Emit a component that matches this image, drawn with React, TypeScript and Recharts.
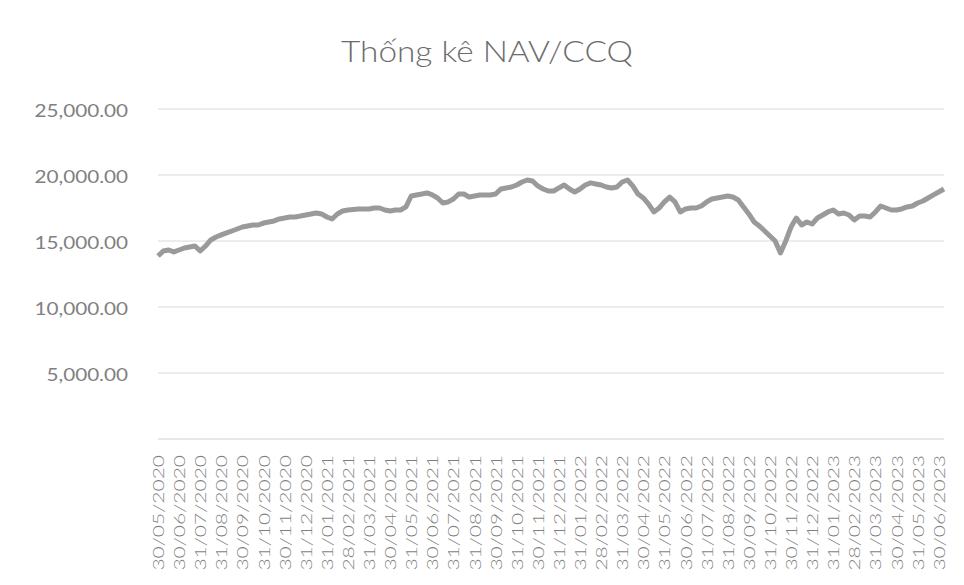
import React from "react";
import { LineChart, Line, XAxis, YAxis, CartesianGrid } from "recharts";

const chartTitle = "Thống kê NAV/CCQ";

const monthLabels = [
  "30/05/2020", "30/06/2020", "31/07/2020", "31/08/2020", "30/09/2020", "31/10/2020",
  "30/11/2020", "31/12/2020", "31/01/2021", "28/02/2021", "31/03/2021", "30/04/2021",
  "31/05/2021", "30/06/2021", "31/07/2021", "31/08/2021", "30/09/2021", "31/10/2021",
  "30/11/2021", "31/12/2021", "31/01/2022", "28/02/2022", "31/03/2022", "30/04/2022",
  "31/05/2022", "30/06/2022", "31/07/2022", "31/08/2022", "30/09/2022", "31/10/2022",
  "30/11/2022", "31/12/2022", "31/01/2023", "28/02/2023", "31/03/2023", "30/04/2023",
  "31/05/2023", "30/06/2023",
];

// NAV/CCQ read roughly every quarter of a month
const navValues = [
  13860, 14240, 14320, 14170, 14320, 14470, 14550, 14620, 14240, 14620,
  15080, 15300, 15460, 15610, 15760, 15910, 16060, 16140, 16210, 16210,
  16360, 16440, 16520, 16670, 16740, 16820, 16820, 16890, 16970, 17050,
  17120, 17050, 16820, 16670, 17050, 17270, 17350, 17390, 17430, 17430,
  17430, 17500, 17500, 17350, 17270, 17350, 17350, 17580, 18410, 18490,
  18560, 18640, 18490, 18260, 17880, 17960, 18180, 18560, 18560, 18330,
  18410, 18490, 18490, 18490, 18560, 18940, 19020, 19090, 19240, 19470,
  19620, 19550, 19170, 18940, 18790, 18790, 19020, 19240, 18940, 18710,
  18940, 19240, 19400, 19320, 19240, 19090, 19020, 19090, 19470, 19620,
  19170, 18560, 18260, 17800, 17200, 17500, 17960, 18330, 17960, 17200,
  17430, 17500, 17500, 17650, 17960, 18180, 18260, 18330, 18410, 18330,
  18110, 17580, 17050, 16440, 16140, 15760, 15380, 15000, 14100, 15000,
  16060, 16740, 16210, 16440, 16290, 16740, 16970, 17200, 17350, 17050,
  17120, 16970, 16590, 16890, 16890, 16820, 17200, 17650, 17500, 17350,
  17350, 17430, 17580, 17650, 17880, 18030, 18260, 18490, 18710, 18940,
];

const yTicks = [5000, 10000, 15000, 20000, 25000];
const pointsPerMonth = 4;

const data = navValues.map((v, i) => ({ t: i / pointsPerMonth, nav: v }));
const monthTicks = monthLabels.map((_, i) => i);

const fmt = (v: number) =>
  v.toLocaleString("en-US", { minimumFractionDigits: 2, maximumFractionDigits: 2 });

const fontFamily = "Lato, 'Open Sans', sans-serif";

const YTick = (props: any) => {
  const { x, y, payload } = props;
  return (
    <text
      transform={`translate(${x - 22},${y + 8}) scale(1.15,1)`}
      textAnchor="end"
      fontSize={18}
      fontWeight={400}
      fontFamily={fontFamily}
      fill="#808080"
    >
      {fmt(payload.value)}
    </text>
  );
};

const XTick = (props: any) => {
  const { x, y, payload } = props;
  return (
    <text
      transform={`translate(${x + 6},${y + 8}) rotate(-90) scale(1.4,1)`}
      textAnchor="end"
      fontSize={15}
      fontWeight={300}
      fontFamily={fontFamily}
      fill="#7f7f7f"
    >
      {monthLabels[payload.value]}
    </text>
  );
};

export default function App() {
  return (
    <div style={{ position: "absolute", left: 0, top: 0, width: 964, height: 585, background: "#ffffff" }}>
      <svg width={964} height={80} style={{ position: "absolute", left: 0, top: 0 }}>
        <text
          transform="translate(487,61.5) scale(1.15,1)"
          textAnchor="middle"
          fontSize={29}
          fontWeight={300}
          fontFamily={fontFamily}
          fill="#6c6c6c"
        >
          {chartTitle}
        </text>
      </svg>
      <div style={{ position: "absolute", left: 0, top: 0 }}>
        <LineChart
          width={964}
          height={585}
          data={data}
          margin={{ top: 109, right: 20, bottom: 6, left: 8 }}
        >
          <CartesianGrid vertical={false} stroke="#dadada" />
          <XAxis
            type="number"
            dataKey="t"
            domain={[0, 37.25]}
            ticks={monthTicks}
            interval={0}
            tick={<XTick />}
            tickLine={false}
            axisLine={{ stroke: "#e2e2e2" }}
            height={140}
          />
          <YAxis
            type="number"
            domain={[0, 25000]}
            ticks={yTicks}
            interval={0}
            tick={<YTick />}
            tickLine={false}
            axisLine={false}
            width={150}
          />
          <Line
            type="linear"
            dataKey="nav"
            stroke="#9a9a9a"
            strokeWidth={5}
            strokeLinejoin="round"
            dot={false}
            isAnimationActive={false}
          />
        </LineChart>
      </div>
    </div>
  );
}
